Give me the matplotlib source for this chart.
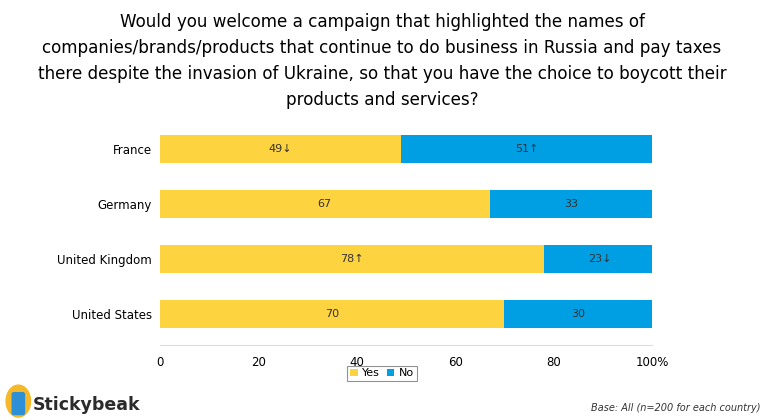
import matplotlib
matplotlib.use('Agg')
import matplotlib.pyplot as plt
from matplotlib.patches import FancyBboxPatch, Ellipse
import numpy as np

countries = ['France', 'Germany', 'United Kingdom', 'United States']
yes_vals = [49, 67, 78, 70]
no_vals = [51, 33, 23, 30]
yes_marks = ['\u2193', '', '\u2191', '']
no_marks = ['\u2191', '', '\u2193', '']
xticks = [0, 20, 40, 60, 80, 100]
xticklabels = ['0', '20', '40', '60', '80', '100%']

title = ('Would you welcome a campaign that highlighted the names of\n'
         'companies/brands/products that continue to do business in Russia and pay taxes\n'
         'there despite the invasion of Ukraine, so that you have the choice to boycott their\n'
         'products and services?')

yellow = '#FDD340'
blue = '#009FE3'

fig = plt.figure(figsize=(7.64, 4.2), dpi=100)
ax = fig.add_axes([0.2094, 0.1786, 0.644, 0.5238])

y = np.arange(len(countries))
ax.barh(y, yes_vals, height=0.51, color=yellow, label='Yes')
ax.barh(y, no_vals, left=yes_vals, height=0.51, color=blue, label='No')

for i in range(len(countries)):
    ax.text(yes_vals[i] / 2, y[i], f'{yes_vals[i]}{yes_marks[i]}', ha='center', va='center',
            fontsize=8, color='#333333')
    ax.text(yes_vals[i] + no_vals[i] / 2, y[i], f'{no_vals[i]}{no_marks[i]}', ha='center',
            va='center', fontsize=8, color='#333333')

ax.set_xlim(0, 100)
ax.set_ylim(3.56, -0.436)
ax.set_yticks(y)
ax.set_yticklabels(countries, fontsize=8.5)
ax.set_xticks(xticks)
ax.set_xticklabels(xticklabels, fontsize=8.5)
ax.tick_params(length=0, pad=6)
ax.tick_params(axis='x', pad=8)
for s in ['top', 'right', 'left']:
    ax.spines[s].set_visible(False)
ax.spines['bottom'].set_color('#dddddd')

fig.text(0.5, 0.968, title, ha='center', va='top', fontsize=12.1, linespacing=1.56)

leg = fig.legend(loc='center', bbox_to_anchor=(0.5, 0.111), ncol=2, fontsize=8,
                 frameon=True, fancybox=False, handlelength=0.7, handleheight=0.7,
                 handletextpad=0.4, columnspacing=0.6, borderpad=0.25)
leg.get_frame().set_edgecolor('#777777')
leg.get_frame().set_linewidth(0.8)

# logo
lax = fig.add_axes([0.004, 0.005, 0.04, 0.08])
lax.set_xlim(0, 1)
lax.set_ylim(0, 1)
lax.axis('off')
lax.add_patch(Ellipse((0.5, 0.5), 0.8, 0.95, color='#F5B829'))
lax.add_patch(FancyBboxPatch((0.35, 0.15), 0.3, 0.55, boxstyle='round,pad=0.05', color='#2D8FD5'))
fig.text(0.043, 0.035, 'Stickybeak', fontsize=12.5, fontweight='bold', color='#2b2b2b', va='center')

fig.text(0.995, 0.028, 'Base: All (n=200 for each country)', ha='right', va='center',
         fontsize=7, style='italic', color='#333333')

fig.savefig('out.png', dpi=100)
